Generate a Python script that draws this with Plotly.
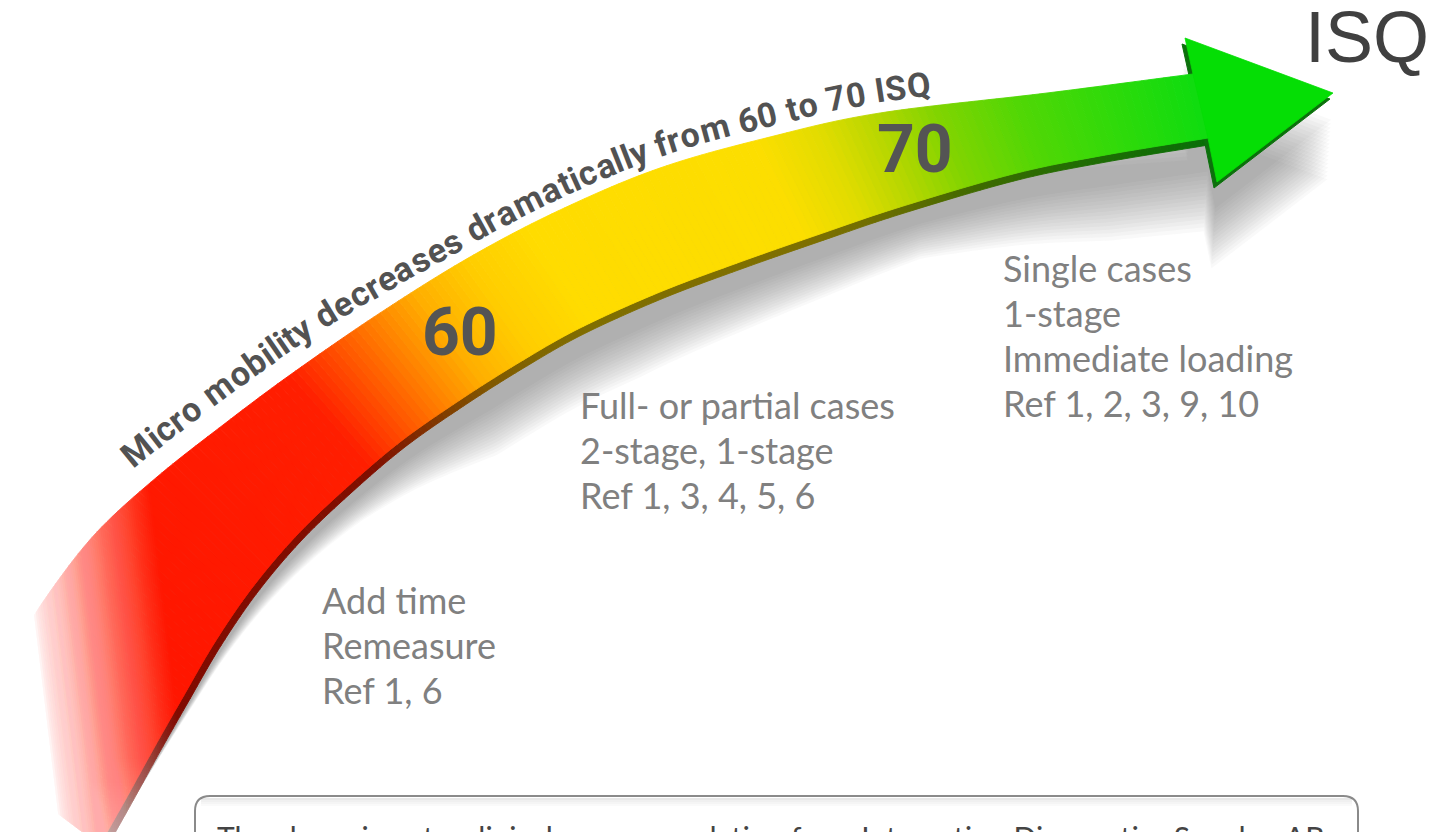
import numpy as np
import plotly.graph_objects as go

W, H = 1430, 832

# ---------------- content ----------------
ARROW_CAPTION = "Micro mobility decreases dramatically from 60 to 70 ISQ"
ISQ_MARKS = ["60", "70"]
ISQ_MARK_X = [460, 915]
UNIT_LABEL = "ISQ"
GROUP_LINES = [
    ["Add time", "Remeasure", "Ref 1, 6"],
    ["Full- or partial cases", "2-stage, 1-stage", "Ref 1, 3, 4, 5, 6"],
    ["Single cases", "1-stage", "Immediate loading", "Ref 1, 2, 3, 9, 10"],
]
GROUP_LEFT = [320, 578, 1001]
GROUP_TOP = [600, 405, 268]
LINE_STEP = 45
DISCLAIMER = "The above is not a clinical recommendation from Integration Diagnostics Sweden AB"

# ---------------- arrow outline (control points) ----------------
TOP_X = [-40, 10, 50, 97, 157, 223, 290, 380, 470, 560, 660, 770, 880, 1047, 1193]
TOP_Y = [740, 655, 592, 532, 477, 425, 375, 313, 257, 210, 168, 137, 113, 93, 74]
BOT_X = [100, 127, 154, 183, 215, 252, 296, 345, 400, 460, 520, 580, 660, 740, 820, 900, 1013, 1100, 1208]
BOT_Y = [845, 797, 748, 697, 642, 588, 536, 489, 442, 400, 362, 328, 292, 262, 234, 207, 174, 156, 138]
HEAD_X = [1193, 1185, 1333, 1217, 1208]
HEAD_Y = [74, 38, 93, 182, 138]

GRAD_X = [0, 330, 370, 410, 450, 500, 560, 780, 840, 890, 950, 1030, 1120, 1200]
GRAD_C = [(255, 17, 0), (255, 30, 0), (255, 80, 0), (255, 130, 0), (255, 175, 0),
          (255, 205, 0), (255, 220, 0), (252, 222, 0), (225, 220, 0), (185, 215, 0),
          (130, 212, 0), (80, 215, 5), (45, 218, 10), (15, 220, 15)]
HEAD_COLOR = (5, 222, 5)
HEAD_RIM = (12, 112, 12)

SH_X = [60, 300, 450, 600, 900, 1100, 1210]
SH_DX = [0, 8, 6, 2, 0, -2, -4]
SH_DY = [0, 18, 45, 47, 35, 55, 60]

GAP_X = [100, 330, 450]
GAP_V = [24, 20, 12]

MARK_T = [0.48, 0.40]   # position of the ISQ marks across the band (0 = top edge)

RIM_W = 7
N = 200


def smooth(px, py, per=30):
    P = np.column_stack([px, py]).astype(float)
    P = np.vstack([2 * P[0] - P[1], P, 2 * P[-1] - P[-2]])
    out = []
    for i in range(1, len(P) - 2):
        p0, p1, p2, p3 = P[i - 1], P[i], P[i + 1], P[i + 2]
        for tt in np.linspace(0, 1, per, endpoint=False):
            t2 = tt * tt
            t3 = t2 * tt
            out.append(0.5 * ((2 * p1) + (-p0 + p2) * tt + (2 * p0 - 5 * p1 + 4 * p2 - p3) * t2
                              + (-p0 + 3 * p1 - 3 * p2 + p3) * t3))
    out.append(P[-2])
    return np.array(out)


def resample(C, n):
    seg = np.hypot(*np.diff(C, axis=0).T)
    s = np.concatenate([[0], np.cumsum(seg)])
    u = np.linspace(0, s[-1], n)
    return np.column_stack([np.interp(u, s, C[:, 0]), np.interp(u, s, C[:, 1])])


def unit_tangent(C):
    g = np.gradient(C, axis=0)
    return g / np.hypot(g[:, 0], g[:, 1])[:, None]


T = resample(smooth(TOP_X, TOP_Y), N + 1)
B = resample(smooth(BOT_X, BOT_Y), N + 1)
tb = unit_tangent(B)
nb = np.column_stack([-tb[:, 1], tb[:, 0]])
R = B + RIM_W * nb
CX = (T[:, 0] + B[:, 0]) / 2


def grad(x):
    return np.array([np.interp(x, GRAD_X, [c[k] for c in GRAD_C]) for k in range(3)])


def rgb(c):
    return "rgb(%d,%d,%d)" % tuple(np.clip(np.round(np.asarray(c, float)), 0, 255))


def path(pts):
    return "M " + " L ".join("%.2f,%.2f" % (p[0], p[1]) for p in pts) + " Z"


def poly(pts, fill, line=None, lw=0.9):
    return dict(type="path", path=path(pts), xref="x", yref="y", fillcolor=fill,
                line=dict(color=line if line else fill, width=lw), layer="above")


def white(a):
    return "rgba(255,255,255,%.4f)" % min(a, 1.0)


shapes = []

# ---- drop shadow (many faint layers -> soft edge) ----
i0 = int(np.argmax(CX >= SH_X[0]))
dx = np.interp(CX, SH_X, SH_DX)
dy = np.interp(CX, SH_X, SH_DY)
head_pts = np.column_stack([HEAD_X, HEAD_Y]).astype(float)
for f in np.linspace(0.45, 1.45, 16):
    d = f * np.column_stack([dx[i0:], dy[i0:]])
    top_part = T[i0:] + d
    head_part = head_pts + f * np.array([dx[-1], dy[-1]])
    bot_part = (R[i0:] + d)[::-1]
    outline = np.vstack([top_part, head_part[1:4], bot_part])
    shapes.append(dict(type="path", path=path(outline), xref="x", yref="y",
                       fillcolor="rgba(105,105,105,0.038)", line=dict(width=0), layer="above"))

# ---- rim (dark underside) ----
for i in range(N):
    col = rgb(grad(CX[i]) * 0.5)
    shapes.append(poly([B[i], B[i + 1], R[i + 1], R[i]], col, col, 0.9))
shapes.append(poly(head_pts + np.array([-3.0, 6.0]), rgb(HEAD_RIM), rgb(HEAD_RIM), 1.0))

# ---- face with colour gradient ----
for i in range(N):
    col = rgb(grad((CX[i] + CX[i + 1]) / 2))
    shapes.append(poly([T[i], T[i + 1], B[i + 1], B[i]], col, col, 0.9))
shapes.append(poly(head_pts, rgb(HEAD_COLOR), rgb(HEAD_COLOR), 0.8))

# ---- white fog on the near (lower-left) end: nested half-planes ----
# fog 1: across the band, along p = 0.99x - 0.12y (visibility 0 -> 1 for p in [-40, 90])
P_LEVELS = np.arange(-40.0, 90.01, 2.0)
Y0, Y1 = 380, 900
vis1 = [float(np.clip(((P_LEVELS[k - 1] + P_LEVELS[k]) / 2 + 40.0) / 130.0, 0, 1))
        for k in range(1, len(P_LEVELS))]
for k, pk in enumerate(P_LEVELS):
    if k == 0:
        a = 1.0
    else:
        nxt = vis1[k] if k < len(vis1) else 1.0
        a = 1 - vis1[k - 1] / nxt
    if a <= 0.001:
        continue
    shapes.append(dict(type="path", xref="x", yref="y", layer="above",
                       path=path([(-60, Y0), ((pk + 0.12 * Y0) / 0.99, Y0),
                                  ((pk + 0.12 * Y1) / 0.99, Y1), (-60, Y1)]),
                       fillcolor=white(a), line=dict(width=0)))

# fog 2: the tail end of the band fades towards the bottom edge
ys = np.arange(690.0, 860.01, 3.0)
vis2 = np.interp(ys, [690, 760, 832, 860], [1.0, 0.9, 0.7, 0.6])
prev = 1.0
for k in range(1, len(ys)):
    v = (vis2[k - 1] + vis2[k]) / 2
    a = 1 - v / prev
    prev = v
    if a > 0.0005:
        shapes.append(dict(type="path", xref="x", yref="y", layer="above",
                           path=path([(-60, ys[k - 1]), (200, ys[k - 1]), (200, 900), (-60, 900)]),
                           fillcolor=white(a), line=dict(width=0)))

# ---- disclaimer box ----
shapes.append(dict(type="path", xref="x", yref="y", layer="above",
                   path="M 195,845 L 195,811 Q 195,796 210,796 L 1343,796 Q 1358,796 1358,811 L 1358,845",
                   line=dict(color="#8a8a8a", width=2), fillcolor="rgba(0,0,0,0)"))
for k, a in enumerate([0.09, 0.06, 0.04, 0.02]):
    shapes.append(dict(type="line", xref="x", yref="y", layer="above",
                       x0=201, x1=1352, y0=799 + 2 * k, y1=799 + 2 * k,
                       line=dict(color="rgba(0,0,0,%.3f)" % a, width=2)))

annotations = []

# ---- curved caption ----
RB = {"M": 0.876, "i": 0.243, "c": 0.523, "r": 0.338, "o": 0.569, " ": 0.248, "m": 0.874,
      "b": 0.561, "l": 0.243, "t": 0.327, "y": 0.474, "d": 0.561, "e": 0.528, "a": 0.544,
      "s": 0.517, "f": 0.347, "6": 0.562, "0": 0.562, "7": 0.562, "I": 0.278, "S": 0.594,
      "Q": 0.688}
BOLD = 1.03
tt_ = unit_tangent(T)
nout = np.column_stack([tt_[:, 1], -tt_[:, 0]])
gap = np.interp(T[:, 0], GAP_X, GAP_V)
TB = resample(T + gap[:, None] * nout, 2000)
tbt = unit_tangent(TB)
sarc = np.concatenate([[0], np.cumsum(np.hypot(*np.diff(TB, axis=0).T))])
s_start = np.interp(132, TB[:, 0], sarc)
s_end = np.interp(932, TB[:, 0], sarc)
L = s_end - s_start
widths = np.array([RB[ch] * BOLD for ch in ARROW_CAPTION])
fs = 34.0
spacing = (L - widths.sum() * fs) / (len(ARROW_CAPTION) - 1)
if spacing < 0:
    fs = L / widths.sum()
    spacing = 0.0
pos = s_start
for ch, w in zip(ARROW_CAPTION, widths * fs):
    sc = pos + w / 2
    pos += w + spacing
    if ch == " ":
        continue
    px = np.interp(sc, sarc, TB[:, 0])
    py = np.interp(sc, sarc, TB[:, 1])
    tx = np.interp(sc, sarc, tbt[:, 0])
    ty = np.interp(sc, sarc, tbt[:, 1])
    nx, ny = ty, -tx
    ang = np.degrees(np.arctan2(ty, tx))
    annotations.append(dict(x=px + nx * 0.3 * fs, y=py + ny * 0.3 * fs, xref="x", yref="y",
                            text=ch, showarrow=False, xanchor="center", yanchor="middle",
                            textangle=ang,
                            font=dict(family="Roboto", size=fs, color="#525252", weight=700)))

# ---- ISQ marks on the arrow ----
for lab, mx, mt in zip(ISQ_MARKS, ISQ_MARK_X, MARK_T):
    ty_ = np.interp(mx, T[:, 0], T[:, 1])
    by_ = np.interp(mx, B[:, 0], B[:, 1])
    annotations.append(dict(x=mx, y=ty_ + (by_ - ty_) * mt + 4, xref="x", yref="y", text=lab,
                            showarrow=False, xanchor="center", yanchor="middle",
                            font=dict(family="Roboto", size=66, color="#545454", weight=700)))

annotations.append(dict(x=1367, y=37, xref="x", yref="y", text=UNIT_LABEL, showarrow=False,
                        xanchor="center", yanchor="middle",
                        font=dict(family="Liberation Sans, Arial", size=72, color="#404040")))

for lines, lx, ly in zip(GROUP_LINES, GROUP_LEFT, GROUP_TOP):
    for k, txt in enumerate(lines):
        annotations.append(dict(x=lx, y=ly + k * LINE_STEP, xref="x", yref="y", text=txt,
                                showarrow=False, xanchor="left", yanchor="middle",
                                font=dict(family="Lato, Open Sans", size=36, color="#808080")))

annotations.append(dict(x=215, y=817, xref="x", yref="y", text=DISCLAIMER, showarrow=False,
                        xanchor="left", yanchor="top",
                        font=dict(family="Lato, Open Sans", size=30, color="#444444")))

fig = go.Figure(go.Scatter(x=[0, W], y=[0, H], mode="markers", marker=dict(opacity=0),
                           hoverinfo="skip", showlegend=False))
fig.update_layout(width=W, height=H, margin=dict(l=0, r=0, t=0, b=0),
                  paper_bgcolor="white", plot_bgcolor="white", showlegend=False,
                  xaxis=dict(range=[0, W], visible=False, fixedrange=True),
                  yaxis=dict(range=[H, 0], visible=False, fixedrange=True),
                  shapes=shapes, annotations=annotations)
fig.write_html("out.html", config={"displayModeBar": False},
               post_script="document.body.style.margin='0';document.body.style.padding='0';"
                           "document.body.style.overflow='hidden';")
